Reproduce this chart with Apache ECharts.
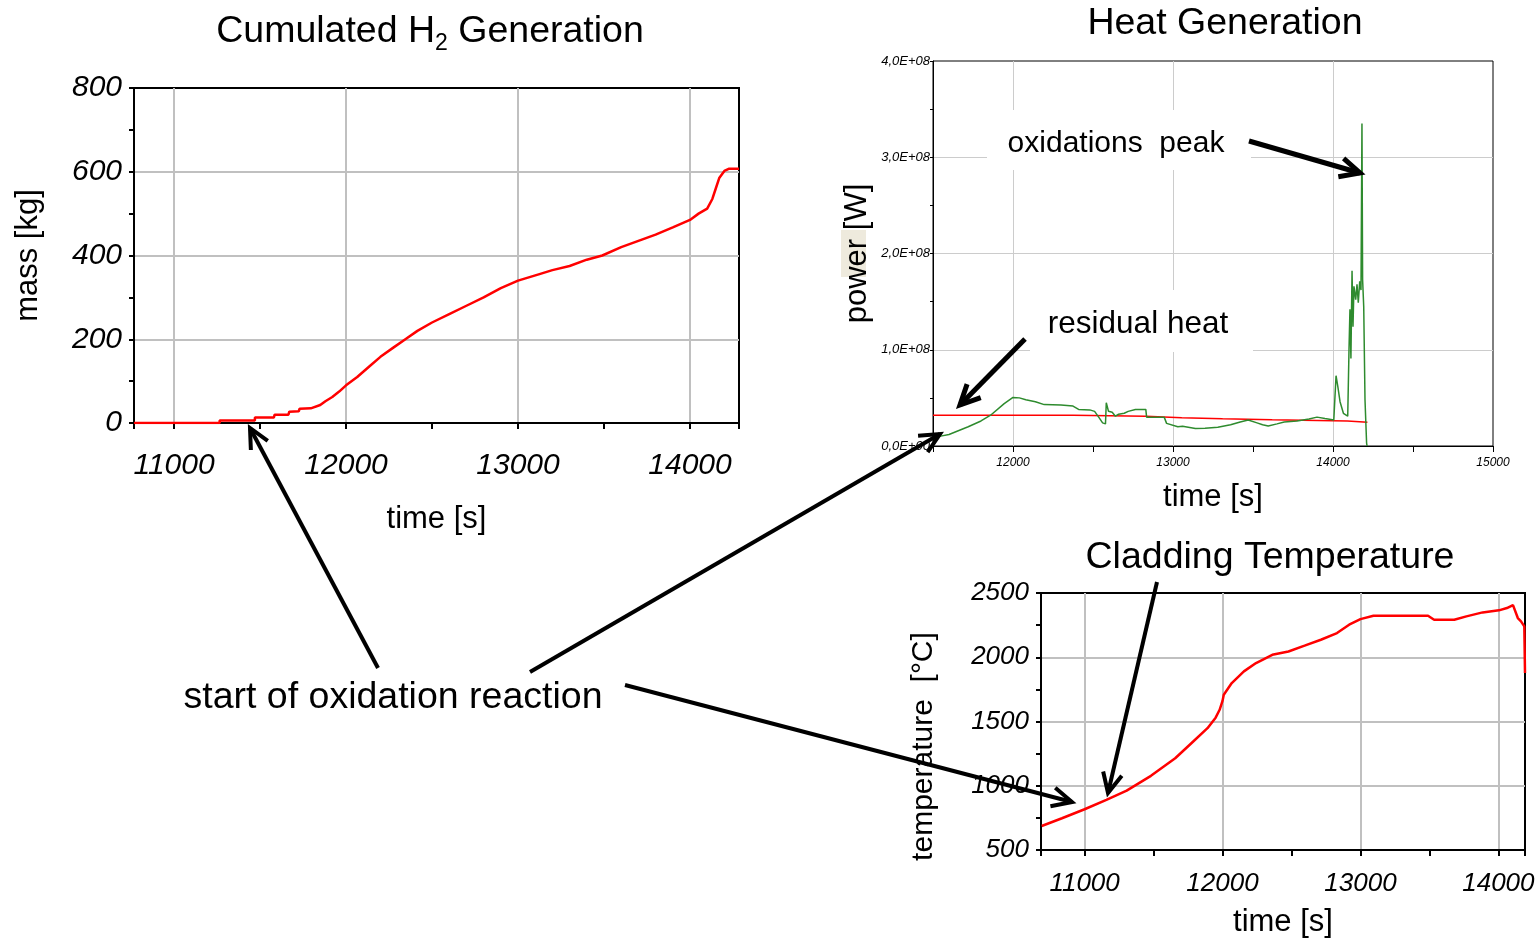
<!DOCTYPE html>
<html><head><meta charset="utf-8">
<script src="https://cdn.jsdelivr.net/npm/echarts@6/dist/echarts.min.js"></script>
<style>html,body{margin:0;padding:0;background:#fff}#c{width:1535px;height:940px}</style>
</head><body><div id="c"></div>
<script>
// ---------- DATA ----------
// Cumulated H2 generation (time [s], mass [kg])
const h2Time = [10767,11265,11265,11470,11470,11580,11585,11665,11670,11725,11730,11795,11850,11880,11920,11960,12000,12065,12135,12200,12275,12345,12415,12500,12600,12700,12800,12900,13000,13120,13200,13300,13400,13490,13600,13700,13800,13900,14000,14050,14100,14130,14150,14170,14200,14225,14285];
const h2Mass = [0,0,6,6,13,13,20,20,27,28,34,35,43,52,62,75,90,110,135,158,180,200,220,240,260,280,300,322,340,355,365,375,390,400,420,435,450,467,485,500,512,535,560,585,602,607,607];

// Heat generation: total power (green)
const heatTime  = [11500,11540,11600,11720,11800,11860,11945,12000,12040,12080,12140,12195,12300,12375,12410,12480,12510,12540,12560,12578,12583,12597,12620,12640,12660,12695,12720,12765,12830,12835,12945,12960,13030,13060,13140,13200,13280,13360,13420,13470,13525,13560,13595,13650,13695,13775,13850,13900,13950,14005,14019,14030,14044,14065,14092,14100,14106,14112,14119,14125,14131,14142,14150,14158,14167,14175,14181,14185,14192,14200,14206,14210,14213];
const heatPower = [9.5e6,1.0e7,1.2e7,2.0e7,2.6e7,3.2e7,4.4e7,5.05e7,5.0e7,4.8e7,4.6e7,4.3e7,4.25e7,4.15e7,3.8e7,3.75e7,3.6e7,2.9e7,2.4e7,2.3e7,4.5e7,3.6e7,3.5e7,3.1e7,3.3e7,3.4e7,3.6e7,3.8e7,3.8e7,3.0e7,3.0e7,2.35e7,2.0e7,2.05e7,1.83e7,1.85e7,1.95e7,2.2e7,2.5e7,2.7e7,2.4e7,2.2e7,2.08e7,2.3e7,2.5e7,2.6e7,2.8e7,3.0e7,2.85e7,2.7e7,7.3e7,6.2e7,4.6e7,3.4e7,3.1e7,1.0e8,1.42e8,0.91e8,1.82e8,1.24e8,1.66e8,1.52e8,1.68e8,1.49e8,1.71e8,1.62e8,3.35e8,1.73e8,1.45e8,4.8e7,4.6e7,3e6,0];
// Heat generation: residual heat (red, stepped)
const residualTime  = [11500,12375,12830,13055,13310,13620,14090,14215];
const residualPower = [3.2e7,3.1e7,2.94e7,2.84e7,2.73e7,2.6e7,2.46e7,2.46e7];

// Cladding temperature (time [s], temperature [°C])
const cladTime = [10689,10836,11000,11158,11305,11481,11657,11774,11891,11950,11979,12000,12009,12067,12155,12243,12361,12478,12595,12713,12830,12918,13000,13094,13490,13534,13680,13768,13886,14004,14062,14106,14120,14141,14164,14188,14193];
const cladTemp = [687,747,817,890,962,1077,1214,1331,1448,1530,1591,1660,1708,1799,1890,1955,2019,2045,2090,2136,2188,2253,2297,2323,2323,2292,2292,2318,2349,2365,2383,2406,2414,2305,2279,2240,1877];

// ---------- CHART ----------
const zip = (a, b) => a.map((v, i) => [v, b[i]]);
const FONT = "'Liberation Sans', Arial, Helvetica, sans-serif";
const BLACK = '#000';
const GRIDC = '#c0c0c0';
const plain = v => String(Math.round(v));

function heatLabel(v) {
  if (v === 0) return '0,0E+00';
  return (v / 1e8).toFixed(1).replace('.', ',') + 'E+08';
}

function xAxisCfg(idx, min, max, opts) {
  return {
    gridIndex: idx, type: 'value', min: min, max: max, splitNumber: 4,
    axisLine: {show: true, onZero: false, lineStyle: {color: BLACK, width: opts.lw}},
    axisTick: {show: true, length: 6, lineStyle: {color: BLACK, width: opts.lw}},
    minorTick: {show: true, splitNumber: 2, length: 6, lineStyle: {color: BLACK, width: opts.lw}},
    splitLine: {show: true, showMinLine: false, showMaxLine: false, lineStyle: {color: opts.gc, width: opts.gw}},
    axisLabel: {showMinLabel: false, showMaxLabel: opts.showMax, fontStyle: 'italic', fontSize: opts.fs,
      fontFamily: FONT, color: BLACK, margin: opts.margin, formatter: plain},
    name: 'time [s]', nameLocation: 'middle', nameGap: opts.nameGap,
    nameTextStyle: {fontSize: 31, fontFamily: FONT, color: BLACK}
  };
}

const option = {
  animation: false,
  backgroundColor: '#fff',
  grid: [
    {left: 134, top: 88, width: 605, height: 335, show: true, borderColor: BLACK, borderWidth: 2, outerBoundsMode: 'none', containLabel: false},
    {left: 933, top: 61, width: 560, height: 385, show: true, borderColor: BLACK, borderWidth: 1, outerBoundsMode: 'none', containLabel: false},
    {left: 1041, top: 593, width: 484, height: 257, show: true, borderColor: BLACK, borderWidth: 2, outerBoundsMode: 'none', containLabel: false}
  ],
  xAxis: [
    xAxisCfg(0, 10767, 14285, {lw: 2, gc: GRIDC, gw: 2, fs: 30, margin: 28, nameGap: 81, showMax: false}),
    xAxisCfg(1, 11500, 15000, {lw: 1, gc: '#cccccc', gw: 1, fs: 12, margin: 11, nameGap: 36, showMax: true}),
    xAxisCfg(2, 10684, 14193, {lw: 2, gc: GRIDC, gw: 2, fs: 26, margin: 21, nameGap: 57, showMax: false})
  ],
  yAxis: [
    {gridIndex: 0, type: 'value', min: 0, max: 800, interval: 200,
     axisLine: {show: true, lineStyle: {color: BLACK, width: 2}},
     axisTick: {show: true, length: 5, lineStyle: {color: BLACK, width: 2}},
     minorTick: {show: true, splitNumber: 2, length: 5, lineStyle: {color: BLACK, width: 2}},
     splitLine: {show: true, showMinLine: false, showMaxLine: false, lineStyle: {color: GRIDC, width: 2}},
     axisLabel: {fontStyle: 'italic', fontSize: 30, fontFamily: FONT, color: BLACK, margin: 12, formatter: plain, padding: [6, 0, 0, 0]},
     name: 'mass [kg]', nameLocation: 'middle', nameGap: 90,
     nameTextStyle: {fontSize: 31, fontFamily: FONT, color: BLACK}},
    {gridIndex: 1, type: 'value', min: 0, max: 4e8, interval: 1e8,
     axisLine: {show: true, lineStyle: {color: BLACK, width: 1}},
     axisTick: {show: true, length: 3, lineStyle: {color: BLACK, width: 1}},
     minorTick: {show: true, splitNumber: 2, length: 3, lineStyle: {color: BLACK, width: 1}},
     splitLine: {show: true, showMinLine: false, showMaxLine: false, lineStyle: {color: '#cccccc', width: 1}},
     axisLabel: {fontStyle: 'italic', fontSize: 13, fontFamily: FONT, color: BLACK, margin: 3, formatter: heatLabel},
     name: 'power [W]', nameLocation: 'middle', nameGap: 60,
     nameTextStyle: {fontSize: 31, fontFamily: FONT, color: BLACK}},
    {gridIndex: 2, type: 'value', min: 500, max: 2500, interval: 500,
     axisLine: {show: true, lineStyle: {color: BLACK, width: 2}},
     axisTick: {show: true, length: 5, lineStyle: {color: BLACK, width: 2}},
     minorTick: {show: true, splitNumber: 2, length: 5, lineStyle: {color: BLACK, width: 2}},
     splitLine: {show: true, showMinLine: false, showMaxLine: false, lineStyle: {color: GRIDC, width: 2}},
     axisLabel: {fontStyle: 'italic', fontSize: 26, fontFamily: FONT, color: BLACK, margin: 12, formatter: plain, padding: [8, 0, 0, 0]},
     name: 'temperature  [°C]', nameLocation: 'middle', nameGap: 102,
     nameTextStyle: {fontSize: 30, fontFamily: FONT, color: BLACK, padding: [0, 50, 0, 0]}}
  ],
  series: [
    {name: 'H2 mass', type: 'line', xAxisIndex: 0, yAxisIndex: 0, data: zip(h2Time, h2Mass),
     showSymbol: false, color: '#ff0000', lineStyle: {color: '#ff0000', width: 2.5}},
    {name: 'residual heat', type: 'line', xAxisIndex: 1, yAxisIndex: 1, step: 'end', data: zip(residualTime, residualPower),
     showSymbol: false, color: '#ff0000', lineStyle: {color: '#ff0000', width: 1.5}, z: 2},
    {name: 'total heat', type: 'line', xAxisIndex: 1, yAxisIndex: 1, data: zip(heatTime, heatPower),
     showSymbol: false, color: '#2e8b2e', lineStyle: {color: '#2e8b2e', width: 1.5}, z: 3},
    {name: 'cladding temperature', type: 'line', xAxisIndex: 2, yAxisIndex: 2, data: zip(cladTime, cladTemp),
     showSymbol: false, color: '#ff0000', lineStyle: {color: '#ff0000', width: 2.5}}
  ],
  graphic: []
};

// ---------- ANNOTATIONS ----------
function txt(text, x, y, size, extra) {
  return Object.assign({type: 'text', x: x, y: y, z: 100,
    style: {text: text, fontSize: size, fontFamily: FONT, fill: BLACK, align: 'center', verticalAlign: 'middle'}}, extra || {});
}
function arrow(x1, y1, x2, y2, w, head) {
  const a = Math.atan2(y2 - y1, x2 - x1), s = 0.45;
  const p1 = [x2 - head * Math.cos(a - s), y2 - head * Math.sin(a - s)];
  const p2 = [x2 - head * Math.cos(a + s), y2 - head * Math.sin(a + s)];
  return [
    {type: 'line', z: 110, shape: {x1: x1, y1: y1, x2: x2, y2: y2}, style: {stroke: BLACK, lineWidth: w}},
    {type: 'polyline', z: 110, shape: {points: [p1, [x2, y2], p2]}, style: {stroke: BLACK, lineWidth: w, fill: null}}
  ];
}
const g = option.graphic;
g.push({type: 'rect', z: -10, shape: {x: 841, y: 230, width: 25, height: 47}, style: {fill: '#eeeadd'}});
g.push({type: 'text', x: 430, y: 32, z: 100, style: {
  text: '{a|Cumulated H}{b|2}{a| Generation}', align: 'center', verticalAlign: 'middle',
  rich: {a: {fontSize: 37.5, fontFamily: FONT, fill: BLACK, lineHeight: 46, verticalAlign: 'middle'},
         b: {fontSize: 23, fontFamily: FONT, fill: BLACK, lineHeight: 23, verticalAlign: 'bottom'}}}});
g.push(txt('Heat Generation', 1225, 24, 37.5));
g.push(txt('Cladding Temperature', 1270, 558, 37.5));
g.push({type: 'rect', z: 95, shape: {x: 987, y: 110, width: 264, height: 60}, style: {fill: '#fff'}});
g.push(txt('oxidations  peak', 1116, 144, 30));
g.push({type: 'rect', z: 95, shape: {x: 1030, y: 290, width: 223, height: 62}, style: {fill: '#fff'}});
g.push(txt('residual heat', 1138, 324, 31.5));
g.push(txt('start of oxidation reaction', 393, 698, 37.5));
g.push(...arrow(378, 668, 250, 428, 4, 22));
g.push(...arrow(530, 672, 940, 434, 4, 22));
g.push(...arrow(625, 685, 1072, 802, 4, 22));
g.push(...arrow(1157, 582, 1108, 793, 4, 22));
g.push(...arrow(1249, 141, 1360, 173, 5, 22));
g.push(...arrow(1025, 339, 960, 405, 5, 22));

const chart = echarts.init(document.getElementById('c'), null, {renderer: 'canvas'});
chart.setOption(option);
</script>
</body></html>
